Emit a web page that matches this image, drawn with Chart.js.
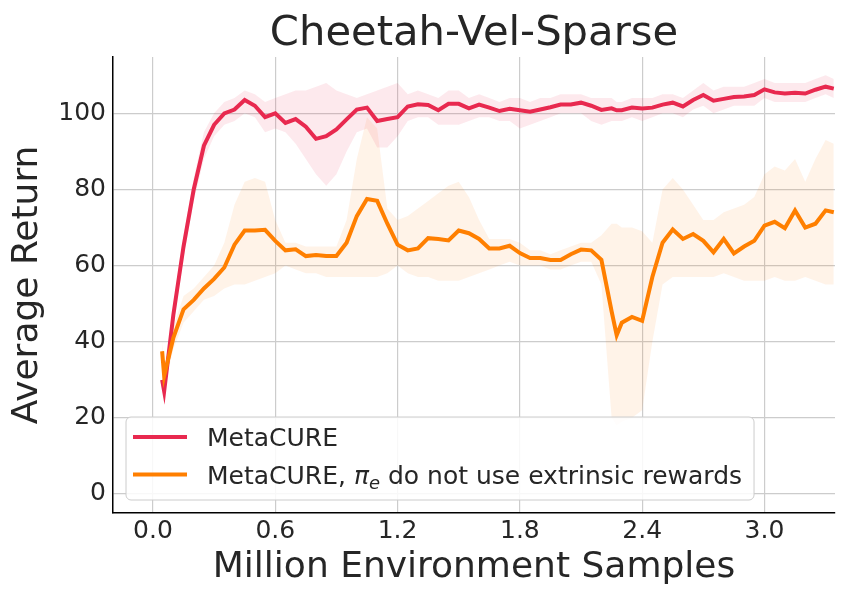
<!DOCTYPE html>
<html>
<head>
<meta charset="utf-8">
<script src="https://cdn.jsdelivr.net/npm/chart.js@4.4.1/dist/chart.umd.min.js"></script>
<style>
  html, body { margin: 0; padding: 0; background: #fff; }
  #wrap { width: 850px; height: 600px; }
</style>
</head>
<body>
<div id="wrap"><canvas id="returnChart"></canvas></div>
<script>
// million environment samples
const samples = [0.045, 0.055, 0.1, 0.15, 0.2, 0.25, 0.3, 0.35, 0.4, 0.45, 0.5, 0.55, 0.6, 0.65, 0.7, 0.75, 0.8, 0.85, 0.9, 0.95,
    1.0, 1.05, 1.1, 1.15, 1.2, 1.25, 1.3, 1.35, 1.4, 1.45, 1.5, 1.55, 1.6, 1.65, 1.7, 1.75, 1.8, 1.85, 1.9, 1.95,
    2.0, 2.05, 2.1, 2.15, 2.2, 2.25, 2.275, 2.3, 2.35, 2.4, 2.45, 2.5, 2.55, 2.6, 2.65, 2.7, 2.75, 2.8, 2.85, 2.9, 2.95,
    3.0, 3.05, 3.1, 3.15, 3.2, 3.25, 3.3, 3.34];

// MetaCURE: mean, lower, upper
const metacure = [30, 27, 47, 65, 80, 91.5, 97, 100, 101, 103.5, 102, 99, 100, 97.5, 98.5, 96.5, 93.3, 94, 95.8, 98.4,
    101, 101.5, 98, 98.5, 99, 101.8, 102.4, 102.2, 100.8, 102.5, 102.5, 101.3, 102.3, 101.5, 100.6, 101.2, 100.8, 100.4, 101, 101.6,
    102.3, 102.3, 102.8, 102, 100.9, 101.3, 100.8, 100.8, 101.5, 101.3, 101.5, 102.3, 102.8, 101.8, 103.5, 104.8, 103.3, 103.8, 104.3, 104.4, 104.8,
    106.3, 105.5, 105.2, 105.4, 105.2, 106.2, 107, 106.5];
const metacureLo = [28, 24, 44, 62, 77, 88, 94, 97, 98, 100, 99, 95, 96, 95, 92, 88, 84, 81, 84, 90,
    95, 96, 91, 91, 94, 98, 99, 99, 97, 97, 97, 98, 99, 99, 98, 98, 96, 97, 98, 99,
    100, 100, 100, 98, 97, 98, 98, 98, 99, 98, 99, 100, 100, 99, 101, 102, 100, 101, 102, 102, 102,
    104, 103, 103, 103, 103, 104, 105, 104];
const metacureHi = [32, 30, 50, 68, 83, 95, 100, 103, 104, 106, 105, 103, 104, 105, 106, 106, 107, 108, 106, 105,
    104, 105, 106, 107, 108, 105, 106, 105, 104, 106, 106, 104, 105, 104, 103, 104, 104, 103, 104, 104,
    105, 105, 105, 104, 104, 104, 103, 103, 104, 104, 104, 105, 105, 104, 106, 108, 106, 107, 107, 107, 108,
    109, 108, 108, 108, 108, 109, 110, 109];

// MetaCURE, pi_e without extrinsic rewards: mean, lower, upper
const noExtrinsic = [37.5, 31, 41, 48.5, 51, 54, 56.5, 59.5, 65.5, 69.2, 69.2, 69.4, 66.5, 64, 64.3, 62.5, 62.8, 62.5, 62.5, 66,
    73, 77.5, 77, 71, 65.5, 64, 64.5, 67.2, 67, 66.6, 69.2, 68.5, 67, 64.5, 64.5, 65.2, 63.3, 62, 62, 61.5,
    61.5, 63, 64.2, 64, 61.5, 48, 41.7, 45, 46.5, 45.5, 57, 66, 69.5, 67, 68.3, 66.5, 63.5, 67, 63.2, 65, 66.5,
    70.5, 71.5, 69.8, 74.5, 70, 71, 74.5, 74];
const noExtrinsicLo = [35, 28, 38, 45, 48, 51, 52, 54, 55, 55, 56, 57, 58, 60, 59, 58, 58, 57, 57, 57,
    57, 57, 57, 58, 60, 58, 57, 57, 56, 56, 56, 57, 58, 59, 60, 61, 60, 60, 60, 59,
    59, 60, 61, 61, 55, 20, 18, 19, 20, 22, 40, 55, 57, 57, 57, 57, 57, 58, 57, 56, 56,
    56, 57, 56, 56, 57, 56, 55, 55];
const noExtrinsicHi = [40, 34, 44, 52, 54, 57, 60, 66, 76, 82, 83, 82, 72, 66, 66, 65, 65, 65, 65, 72,
    88, 99, 96, 75, 72, 73, 75, 77, 79, 81, 82, 78, 72, 67, 67, 67, 66, 64, 64, 63,
    64, 65, 66, 66, 68, 71, 71, 70, 70, 69, 66, 80, 83, 80, 76, 72, 72, 74, 75, 76, 78,
    84, 86, 85, 88, 82, 88, 93, 92];

const xTicks = [0.0, 0.6, 1.2, 1.8, 2.4, 3.0];
const yTicks = [0, 20, 40, 60, 80, 100];

const seriesNames = ['MetaCURE', 'MetaCURE, π_e do not use extrinsic rewards'];
const red = '#e8294f';
const orange = '#ff7f00';
const textColor = '#262626';
const fontFamily = "'DejaVu Sans', sans-serif";

const pts = vals => vals.map((v, i) => ({ x: samples[i], y: v }));

function band(hi, lo, color) {
    return [
        { data: pts(hi), borderWidth: 0, pointRadius: 0, backgroundColor: color, fill: '+1', order: 2 },
        { data: pts(lo), borderWidth: 0, pointRadius: 0, backgroundColor: color, fill: false, order: 2 },
    ];
}

// legend drawn inside the plot, lower left, with a math subscript for pi_e
const boxLegend = {
    id: 'boxLegend',
    afterDraw(chart) {
        const { ctx, chartArea } = chart;
        const size = 25;
        const normal = size + 'px ' + fontFamily;
        const italic = 'italic ' + size + 'px ' + fontFamily;
        const small = 'italic ' + Math.round(size * 0.7) + 'px ' + fontFamily;
        const colors = [red, orange];

        // split every label into runs: [text, font, dy]
        const runs = seriesNames.map(name => {
            const parts = name.split('π_e');
            if (parts.length === 1) return [[name, normal, 0]];
            return [[parts[0], normal, 0], ['π', italic, 0], ['e', small, 5], [parts[1], normal, 0]];
        });
        ctx.save();
        let textW = 0;
        runs.forEach(r => {
            let w = 0;
            r.forEach(([t, f]) => { ctx.font = f; w += ctx.measureText(t).width; });
            textW = Math.max(textW, w);
        });

        const bx = chartArea.left + 13, by = chartArea.bottom - 96;
        const bw = 81 + textW + 12, bh = 83;
        ctx.beginPath();
        ctx.roundRect(bx, by, bw, bh, 5);
        ctx.fillStyle = 'rgba(255,255,255,0.85)';
        ctx.fill();
        ctx.strokeStyle = '#cccccc';
        ctx.lineWidth = 1;
        ctx.stroke();

        runs.forEach((r, i) => {
            const cy = by + 20 + i * 37.5;
            ctx.beginPath();
            ctx.moveTo(bx + 7, cy);
            ctx.lineTo(bx + 61, cy);
            ctx.strokeStyle = colors[i];
            ctx.lineWidth = 4;
            ctx.stroke();
            let tx = bx + 81;
            ctx.fillStyle = textColor;
            ctx.textBaseline = 'alphabetic';
            r.forEach(([t, f, dy]) => {
                ctx.font = f;
                ctx.fillText(t, tx, cy + 9 + dy);
                tx += ctx.measureText(t).width;
            });
        });
        ctx.restore();
    }
};

new Chart(document.getElementById('returnChart'), {
    type: 'line',
    data: {
        datasets: [
            ...band(metacureHi, metacureLo, 'rgba(232,41,79,0.1)'),
            ...band(noExtrinsicHi, noExtrinsicLo, 'rgba(255,127,0,0.09)'),
            { label: seriesNames[0], data: pts(metacure), borderColor: red, borderWidth: 4, pointRadius: 0, fill: false, order: 1 },
            { label: seriesNames[1], data: pts(noExtrinsic), borderColor: orange, borderWidth: 4, pointRadius: 0, fill: false, order: 0 },
        ]
    },
    options: {
        responsive: true,
        maintainAspectRatio: false,
        animation: false,
        layout: { padding: { left: 0, right: 15, top: 0, bottom: 0 } },
        plugins: {
            legend: { display: false },
            tooltip: { enabled: false },
            title: {
                display: true,
                text: 'Cheetah-Vel-Sparse',
                fullSize: false,
                color: textColor,
                font: { family: fontFamily, size: 41.7, weight: 'normal', lineHeight: 1 },
                padding: { top: 13.5, bottom: 1.8 }
            }
        },
        scales: {
            x: {
                type: 'linear',
                min: -0.196,
                max: 3.346,
                afterFit: s => { s.height = 87; },
                afterBuildTicks: s => { s.ticks = xTicks.map(v => ({ value: v })); },
                grid: { color: '#cccccc', lineWidth: 1.2, drawTicks: false },
                border: { color: '#000000', width: 1.5 },
                ticks: { color: textColor, padding: 3, font: { family: fontFamily, size: 25 }, callback: v => v.toFixed(1) },
                title: { display: true, text: 'Million Environment Samples', color: textColor,
                    font: { family: fontFamily, size: 36 }, padding: { top: 0, bottom: 11 } }
            },
            y: {
                min: -5,
                max: 114.8,
                afterFit: s => { s.width = 113; },
                afterBuildTicks: s => { s.ticks = yTicks.map(v => ({ value: v })); },
                grid: { color: '#cccccc', lineWidth: 1.2, drawTicks: false },
                border: { color: '#000000', width: 1.5 },
                ticks: { color: textColor, padding: 7, font: { family: fontFamily, size: 25 } },
                title: { display: true, text: 'Average Return', color: textColor,
                    font: { family: fontFamily, size: 36 }, padding: { top: 6, bottom: 0 } }
            }
        }
    },
    plugins: [boxLegend]
});
</script>
</body>
</html>
